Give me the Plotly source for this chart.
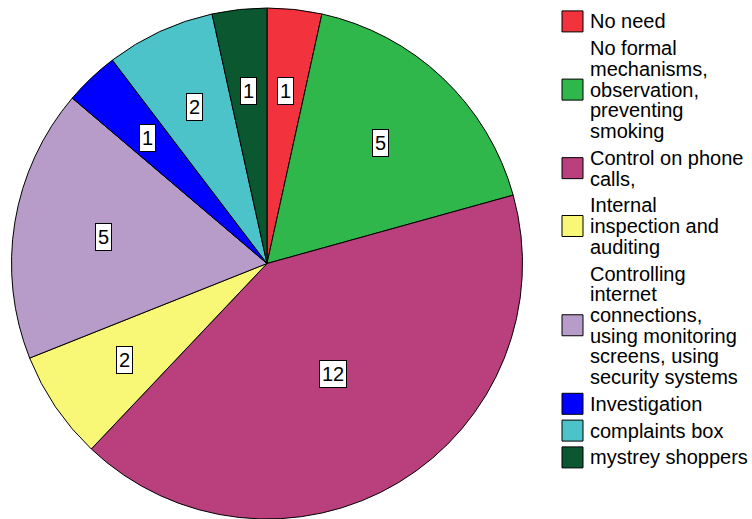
import math
import plotly.graph_objects as go

# Responses and their counts
categories = [
    "No need",
    "No formal<br>mechanisms,<br>observation,<br>preventing<br>smoking",
    "Control on phone<br>calls,",
    "Internal<br>inspection and<br>auditing",
    "Controlling<br>internet<br>connections,<br>using monitoring<br>screens, using<br>security systems",
    "Investigation",
    "complaints box",
    "mystrey shoppers",
]
counts = [1, 5, 12, 2, 5, 1, 2, 1]
colors = ["#F2333D", "#2FB74B", "#B9407C", "#F9F776",
          "#B79BC8", "#0000FF", "#4BC3C8", "#0B5730"]

W, H = 752, 519
FONT = "Arial, Liberation Sans, sans-serif"

# Pie geometry in pixels
CX, CY, R = 267.0, 263.5, 255.5


def px(x):
    return x / W


def py(y):
    return 1 - y / H


fig = go.Figure(go.Pie(
    labels=categories,
    values=counts,
    sort=False,
    direction="clockwise",
    rotation=0,
    marker=dict(colors=colors, line=dict(color="black", width=1)),
    textinfo="none",
    hoverinfo="label+value",
    showlegend=False,
    domain=dict(x=[px(CX - R), px(CX + R)], y=[py(CY + R), py(CY - R)]),
))

# Boxed value labels placed near each slice's centroid
annotations = []
total = sum(counts)
start = 0.0
for v in counts:
    sweep = 2 * math.pi * v / total
    mid = start + sweep / 2
    half = sweep / 2
    r = 1.02 * (2.0 / 3.0) * R * math.sin(half) / half
    lx = CX + r * math.sin(mid)
    ly = CY - r * math.cos(mid)
    annotations.append(dict(
        x=px(lx), y=py(ly), xref="paper", yref="paper",
        text=str(v), showarrow=False,
        xanchor="center", yanchor="middle",
        font=dict(family=FONT, size=20, color="black"),
        bgcolor="white", bordercolor="black", borderwidth=1, borderpad=2,
    ))
    start += sweep

# Hand-built legend with tight line spacing
shapes = []
LINE = 20.7
GAP = 26.8
baseline = 28.3
for name, col in zip(categories, colors):
    lines = name.split("<br>")
    bases = []
    for i, line in enumerate(lines):
        if i > 0:
            baseline += LINE
        bases.append(baseline)
        annotations.append(dict(
            x=px(588), y=py(baseline - 6.9), xref="paper", yref="paper",
            text=line, showarrow=False, xanchor="left", yanchor="middle",
            font=dict(family=FONT, size=20, color="black"),
        ))
    sc = sum(bases) / len(bases) - 6.9
    shapes.append(dict(
        type="rect", xref="paper", yref="paper",
        x0=px(562), x1=px(583), y0=py(sc + 10.5), y1=py(sc - 10.5),
        fillcolor=col, line=dict(color="black", width=1),
    ))
    baseline += GAP

fig.update_layout(
    width=W, height=H,
    margin=dict(l=0, r=0, t=0, b=0),
    paper_bgcolor="white",
    plot_bgcolor="white",
    annotations=annotations,
    shapes=shapes,
    showlegend=False,
)

fig.write_html("out.html")
